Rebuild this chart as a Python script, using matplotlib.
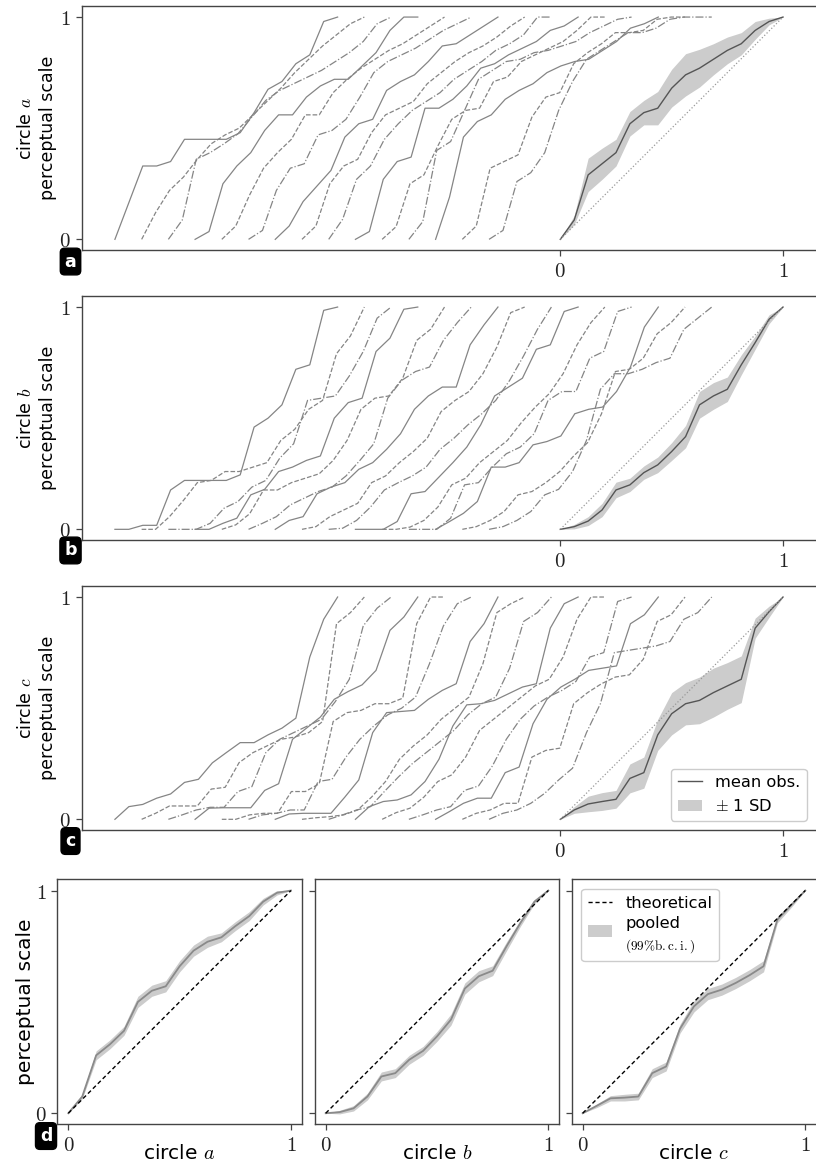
import numpy as np
import matplotlib.pyplot as plt
import matplotlib.patches as mpatches
from matplotlib.lines import Line2D
from matplotlib.patches import Patch
from matplotlib.legend_handler import HandlerPatch

plt.rcParams['font.family'] = 'DejaVu Sans'
plt.rcParams['mathtext.fontset'] = 'cm'

# stimulus levels (17 steps on [0, 1])
levels = np.arange(17) / 16.0

# individual observers, circle a
obs_a = [
    [0, .165, .33, .33, .35, .45, .45, .45, .45, .48, .57, .675, .71, .79, .83, .98, 1],
    [0, .12, .22, .28, .36, .43, .47, .50, .56, .62, .68, .75, .81, .87, .92, .97, 1],
    [0, .087, .36, .39, .43, .475, .55, .625, .67, .70, .73, .76, .80, .84, .89, .97, 1],
    [0, .035, .25, .33, .39, .49, .56, .56, .64, .69, .72, .72, .78, .84, .94, 1, 1],
    [0, .06, .20, .32, .39, .45, .56, .56, .66, .72, .77, .81, .85, .88, .92, .96, 1],
    [0, .04, .22, .32, .34, .47, .49, .54, .64, .75, .80, .83, .86, .90, .94, .97, 1],
    [0, .06, .17, .24, .31, .46, .52, .54, .67, .71, .74, .80, .87, .88, .92, .96, 1],
    [0, .06, .25, .33, .36, .48, .56, .59, .62, .70, .75, .80, .84, .87, .91, .96, 1],
    [0, .09, .27, .33, .45, .52, .58, .62, .66, .72, .76, .80, .85, .88, .92, 1, 1],
    [0, .035, .27, .35, .37, .59, .59, .63, .69, .77, .79, .83, .86, .89, .94, .96, 1],
    [0, .057, .25, .29, .42, .54, .58, .59, .71, .73, .80, .83, .86, .89, .94, 1, 1],
    [0, .08, .40, .44, .58, .72, .76, .80, .81, .84, .85, .87, .89, .93, .96, .99, 1],
    [0, .19, .46, .53, .56, .63, .67, .70, .75, .78, .80, .81, .85, .89, .95, .97, 1],
    [0, .06, .32, .35, .38, .55, .64, .66, .79, .84, .88, .93, .93, .94, .99, 1, 1],
    [0, .04, .26, .30, .39, .58, .71, .81, .85, .89, .93, .93, .95, .99, 1, 1, 1],
]
mean_a = [0, .087, .29, .34, .39, .52, .57, .59, .68, .74, .77, .81, .85, .88, .94, .98, 1]
sd_a = [0, .02, .075, .07, .06, .055, .055, .075, .085, .095, .085, .07, .06, .05, .04, .015, 0]

# individual observers, circle b
obs_b = [
    [0, 0, .018, .018, .177, .22, .22, .22, .22, .245, .46, .50, .56, .72, .74, .985, 1],
    [0, 0, .057, .13, .21, .22, .26, .26, .28, .30, .40, .45, .54, .58, .79, .87, 1],
    [0, 0, 0, .027, .095, .125, .19, .22, .32, .385, .58, .59, .60, .69, .80, .95, 1],
    [0, 0, .027, .05, .155, .18, .26, .28, .31, .33, .50, .57, .59, .80, .86, .99, 1],
    [0, .02, .07, .177, .177, .21, .23, .25, .31, .40, .54, .59, .60, .68, .85, .90, 1],
    [0, .027, .057, .11, .14, .17, .19, .24, .31, .385, .59, .67, .71, .73, .85, .93, 1],
    [0, .04, .057, .16, .19, .21, .27, .30, .36, .43, .54, .60, .64, .64, .83, .92, 1],
    [0, .012, .057, .087, .117, .21, .24, .30, .35, .41, .53, .58, .62, .70, .82, .975, 1],
    [0, .005, .04, .10, .177, .21, .24, .28, .36, .41, .47, .52, .58, .67, .78, .90, 1],
    [0, 0, 0, .035, .16, .17, .235, .30, .37, .47, .60, .64, .68, .81, .83, .98, 1],
    [0, 0, .01, .04, .10, .20, .23, .30, .35, .40, .48, .55, .61, .70, .83, .93, 1],
    [0, 0, 0, .05, .20, .21, .28, .34, .37, .43, .58, .62, .62, .77, .80, .98, 1],
    [0, .035, .072, .125, .28, .28, .30, .38, .395, .42, .52, .54, .55, .62, .73, .91, 1],
    [0, .012, .04, .08, .155, .17, .21, .26, .33, .39, .52, .71, .72, .77, .88, .93, 1],
    [0, .012, .04, .08, .155, .18, .26, .40, .63, .70, .70, .72, .75, .77, .90, .95, 1],
]
mean_b = [0, .012, .037, .087, .177, .20, .255, .29, .35, .417, .56, .60, .63, .74, .84, .945, 1]
sd_b = [0, .01, .02, .03, .035, .03, .03, .035, .04, .05, .06, .06, .055, .045, .03, .02, 0]

# individual observers, circle c
obs_c = [
    [0, .057, .067, .095, .114, .166, .18, .254, .30, .345, .345, .38, .41, .455, .73, .90, 1],
    [0, .027, .06, .06, .06, .136, .144, .255, .30, .33, .36, .37, .39, .44, .88, .93, 1],
    [0, .02, .042, .054, .054, .125, .147, .30, .36, .39, .42, .45, .53, .63, .87, .95, 1],
    [0, .05, .052, .052, .052, .13, .16, .36, .41, .46, .54, .575, .605, .67, .85, .91, 1],
    [0, 0, .02, .027, .027, .125, .125, .16, .44, .48, .49, .52, .52, .545, .88, 1, 1],
    [0, .02, .027, .042, .042, .17, .18, .28, .36, .42, .47, .50, .55, .70, .87, .97, 1],
    [0, .024, .027, .027, .027, .10, .177, .39, .48, .485, .49, .54, .58, .61, .80, .88, 1],
    [0, .007, .012, .02, .042, .10, .17, .27, .33, .38, .45, .50, .55, .70, .93, .97, 1],
    [0, .02, .042, .057, .125, .19, .25, .30, .35, .40, .47, .52, .55, .68, .89, .93, 1],
    [0, .057, .08, .087, .11, .17, .27, .42, .515, .52, .535, .565, .595, .61, .86, .97, 1],
    [0, .03, .05, .10, .17, .20, .28, .40, .45, .50, .55, .60, .63, .73, .90, 1, 1],
    [0, .02, .042, .057, .13, .15, .24, .36, .45, .51, .55, .58, .62, .73, .75, .98, 1],
    [0, .035, .072, .095, .095, .21, .235, .43, .54, .595, .63, .67, .68, .69, .88, .92, 1],
    [0, .027, .042, .072, .072, .28, .31, .32, .52, .57, .61, .64, .65, .72, .89, .92, 1],
    [0, .027, .042, .072, .117, .177, .23, .39, .52, .75, .76, .77, .78, .80, .90, .93, 1],
]
mean_c = [0, .042, .069, .08, .09, .184, .21, .38, .475, .52, .535, .57, .60, .63, .86, .934, 1]
sd_c = [0, .015, .035, .04, .04, .065, .07, .07, .095, .095, .105, .11, .105, .105, .045, .025, 0]

# pooled scales with 99% bootstrap intervals (panel d)
pooled_a = [0, .075, .26, .31, .37, .50, .55, .57, .66, .73, .77, .79, .84, .885, .95, .99, 1]
pooled_b = [0, .005, .022, .075, .165, .18, .24, .28, .345, .42, .56, .615, .64, .75, .855, .95, 1]
pooled_c = [0, .033, .067, .07, .075, .18, .21, .38, .48, .535, .555, .585, .62, .66, .87, .935, 1]
ci_a = [0, .01, .02, .02, .02, .025, .025, .025, .025, .025, .025, .02, .02, .02, .015, .01, 0]
ci_b = [0, .008, .012, .015, .02, .02, .02, .02, .022, .025, .025, .025, .022, .02, .015, .01, 0]
ci_c = [0, .008, .012, .015, .015, .02, .02, .02, .025, .025, .025, .025, .025, .025, .015, .01, 0]

grey = '#858585'
dark = '#555555'
band = '#cccccc'
spine_col = '#444444'
styles = ['-', '--', '-.']
offsets = -2.0 + 0.12 * np.arange(15)

fig = plt.figure(figsize=(8.16, 11.66), dpi=100)


def style_axes(ax, tick_size):
    for s in ax.spines.values():
        s.set_color(spine_col)
        s.set_linewidth(1.0)
    ax.tick_params(colors=spine_col, labelcolor='#222222', labelsize=tick_size,
                   length=4, width=0.9)
    ax.set_xticks([0, 1])
    ax.set_xticklabels(['$0$', '$1$'])
    ax.set_yticks([0, 1])
    ax.set_yticklabels(['$0$', '$1$'])


def tag(x, y, letter):
    fig.text(x, y, letter, color='white', fontweight='bold', fontsize=12.5,
             ha='center', va='center',
             bbox=dict(boxstyle='round,pad=0.25', fc='black', ec='black'))


def obs_panel(bottom, obs, mean, sd, name, letter, tag_y):
    ax = fig.add_axes([0.0999, bottom, 0.9006, 0.2097])
    for i, y in enumerate(obs):
        ax.plot(levels + offsets[i], y, ls=styles[i % 3], color=grey, lw=0.9)
    mean = np.asarray(mean)
    sd = np.asarray(sd)
    ax.fill_between(levels, mean - sd, mean + sd, color=band, lw=0)
    ax.plot(levels, mean, color=dark, lw=1.0)
    ax.plot([0, 1], [0, 1], ':', color='#999999', lw=0.9)
    ax.set_xlim(-2.15, 1.15)
    ax.set_ylim(-0.05, 1.05)
    style_axes(ax, 15)
    ax.spines['right'].set_visible(False)
    ax.set_ylabel('circle $%s$\nperceptual scale' % name, fontsize=12.5,
                  labelpad=2, linespacing=1.25)
    tag(0.0864, tag_y, letter)
    return ax


obs_panel(0.7852, obs_a, mean_a, sd_a, 'a', 'a', 0.7757)
obs_panel(0.5365, obs_b, mean_b, sd_b, 'b', 'b', 0.5279)
ax_c = obs_panel(0.2878, obs_c, mean_c, sd_c, 'c', 'c', 0.2787)
ax_c.legend(handles=[Line2D([], [], color=dark, lw=1.0),
                     Patch(fc=band, ec='none')],
            labels=['mean obs.', '$\\pm$ 1 SD'], loc='lower right',
            fontsize=11.7, handlelength=1.5, borderaxespad=0.6,
            edgecolor='#cccccc', framealpha=1.0)

# panel d: pooled estimates
d_lefts = [0.0701, 0.3855, 0.7004]
pooled = [pooled_a, pooled_b, pooled_c]
cis = [ci_a, ci_b, ci_c]
names = ['a', 'b', 'c']
d_axes = []
for k in range(3):
    ax = fig.add_axes([d_lefts[k], 0.0357, 0.3001, 0.2101])
    p = np.asarray(pooled[k])
    c = np.asarray(cis[k])
    ax.fill_between(levels, p - c, p + c, color=band, lw=0)
    ax.plot(levels, p, color='#8a8a8a', lw=1.3)
    ax.plot([0, 1], [0, 1], '--', color='black', lw=1.0, dashes=(3, 2))
    ax.set_xlim(-0.05, 1.05)
    ax.set_ylim(-0.05, 1.05)
    style_axes(ax, 15)
    ax.set_xlabel('circle $%s$' % names[k], fontsize=14.5, labelpad=-8)
    if k == 0:
        ax.set_ylabel('perceptual scale', fontsize=14.5, labelpad=0)
    else:
        ax.set_yticklabels([])
    d_axes.append(ax)

d_axes[2].spines['right'].set_visible(False)
tag(0.0564, 0.0257, 'd')


# the "pooled" patch sits between the label and its interval note
def low_patch(legend, orig_handle, xdescent, ydescent, width, height, fontsize):
    return mpatches.Rectangle((-xdescent, -ydescent - 0.75 * height), width, height)


blank = Line2D([], [], color='none')
leg = d_axes[2].legend(handles=[Line2D([], [], color='black', ls='--', lw=1.0, dashes=(3, 2)),
                                Patch(fc=band, ec='none'), blank],
                       labels=['theoretical', 'pooled', '$\\mathrm{(99\\%b.c.i.)}$'],
                       loc='upper left', fontsize=11.7, handlelength=1.5,
                       borderaxespad=0.6, labelspacing=0.35,
                       edgecolor='#cccccc', framealpha=1.0,
                       handler_map={Patch: HandlerPatch(patch_func=low_patch)})
leg.get_texts()[2].set_fontsize(9.5)

fig.savefig('out.png', dpi=100)
